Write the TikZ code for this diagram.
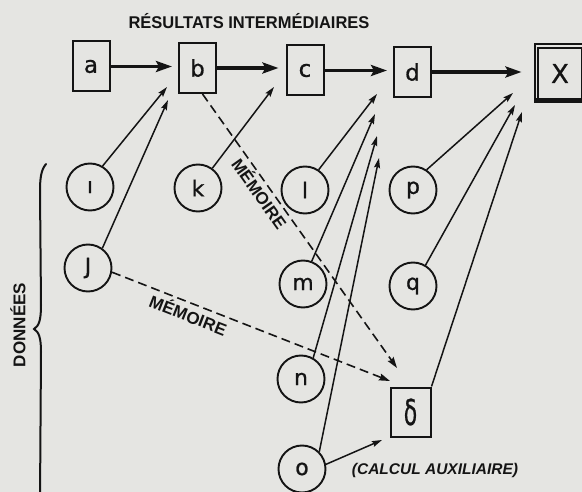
\documentclass[tikz,border=0pt]{standalone}
\usepackage{fontspec}
\setmainfont{Liberation Sans}
\newfontfamily\letterfont[FakeBold=0.8]{DejaVu Sans}
\usetikzlibrary{arrows.meta}

\definecolor{paper}{RGB}{229,229,226}
\definecolor{ink}{RGB}{20,20,20}

\begin{document}
\begin{tikzpicture}[x=1pt,y=-1pt,
  resbox/.style={draw=ink, line width=2pt, minimum width=37pt, minimum height=50pt,
    inner sep=0pt, text=ink, font=\letterfont\fontsize{23}{23}\selectfont},
  datum/.style={draw=ink, circle, line width=1.9pt, minimum size=47pt, inner sep=0pt,
    text=ink, font=\letterfont\fontsize{22}{22}\selectfont},
  chain/.style={ink, line width=3.6pt, -{Stealth[length=16pt,width=11pt,inset=3pt]}},
  feed/.style={ink, line width=1.5pt, -{Stealth[length=10pt,width=6pt,inset=1.5pt]}},
  memo/.style={ink, line width=1.6pt, dash pattern=on 9pt off 5pt,
    -{Stealth[length=11pt,width=7pt,inset=1.5pt]}},
  lbltext/.style={text=ink, inner sep=0pt, font=\bfseries\fontsize{17}{18}\selectfont},
  memotext/.style={text=ink, inner sep=0pt, font=\bfseries\fontsize{17}{18}\selectfont},
]
% paper and frame
\fill[paper] (0,0) rectangle (582,492);
\useasboundingbox (0,0) rectangle (582,492);
\clip (0,0) rectangle (582,492);

% heading
\node[lbltext] (title) at (249,21) {\scalebox{0.97}[1]{RÉSULTATS INTERMÉDIAIRES}};

% intermediate results
\node[resbox] (a) at (91,66.5) {a};
\node[resbox] (b) at (197.5,68) {b};
\node[resbox] (c) at (305,70.5) {c};
\node[resbox] (d) at (412.5,72) {d};
\node[resbox, minimum width=51pt, minimum height=58pt,
      font=\letterfont\fontsize{26}{26}\selectfont] (x) at (560,73.5) {X};
\draw[ink, line width=1.9pt] ([shift={(4.5,4.5)}]x.north west) rectangle ([shift={(-4.5,-4.5)}]x.south east);
\fill[ink] (x.south west) rectangle ([shift={(0,-5.5)}]x.south east);

% data
\node[datum] (i) at (90,187) {ı};
\node[datum] (k) at (198,188) {k};
\node[datum] (l) at (305,190) {l};
\node[datum] (p) at (413,190) {p};
\node[datum] (j) at (88,268) {J};
\node[datum] (m) at (303,284) {m};
\node[datum] (q) at (413,286) {q};
\node[datum] (n) at (301,379) {n};
\node[datum] (o) at (302,469) {o};

% auxiliary computation
\node[resbox, minimum width=40pt, minimum height=49pt] (aux) at (410.5,412)
  {\scalebox{0.95}[1.55]{δ}};
\node[lbltext, font=\bfseries\itshape\fontsize{15.5}{17}\selectfont] (auxnote) at (435,470)
  {(CALCUL AUXILIAIRE)};

% brace and its label
\draw[ink, line width=2pt, line cap=round]
  (46,164) .. controls (41,170) and (40,178) .. (40,192) -- (41,305)
  .. controls (41,320) and (39,326) .. (34,329)
  .. controls (39,332) and (41,338) .. (41,352) -- (40,500);
\node[lbltext, rotate=90] (donnees) at (18,325) {DONNÉES};

% arrow ends below the boxes
\coordinate (b-in1) at (167,87);
\coordinate (b-in2) at (168,100);
\coordinate (c-in) at (274,87);
\coordinate (d-in1) at (377,94);
\coordinate (d-in2) at (375,114);
\coordinate (d-in3) at (377,136);
\coordinate (d-in4) at (379,158);
\coordinate (x-in1) at (513,93);
\coordinate (x-in2) at (515,105);
\coordinate (x-in3) at (522,112);
\coordinate (aux-in1) at (397,368);
\coordinate (aux-in2) at (390,381);
\coordinate (aux-in3) at (382,440);

% main chain
\draw[chain, shorten >=6pt] (a.east) -- (a.east -| b.west);
\draw[chain, shorten >=7pt] (b.east) -- (b.east -| c.west);
\draw[chain, shorten >=6pt] (c.east) -- (c.east -| d.west);
\draw[chain, shorten >=12pt] (d.east) -- (d.east -| x.west);

% data feeding results
\draw[feed] (i.59) -- (b-in1);
\draw[feed] (j.54) -- (b-in2);
\draw[feed] (k.54) -- (c-in);
\draw[feed] (l.56) -- (d-in1);
\draw[feed] (m.69) -- (d-in2);
\draw[feed] (n.60) -- (d-in3);
\draw[feed] (o.45) -- (d-in4);
\draw[feed] (o.11) -- (aux-in3);
\draw[feed] (p.56) -- (x-in1);
\draw[feed] (q.59) -- (x-in2);
\draw[feed] (aux.north east) -- (x-in3);

% stored values
\draw[memo] ([xshift=5pt]b.south) -- (aux-in1)
  node[memotext, pos=0.34, sloped, below=2pt] (memo1) {MÉMOIRE};
\draw[memo] (j.-10) -- (aux-in2)
  node[memotext, pos=0.29, sloped, below=3pt] (memo2) {MÉMOIRE};
\end{tikzpicture}
\end{document}
